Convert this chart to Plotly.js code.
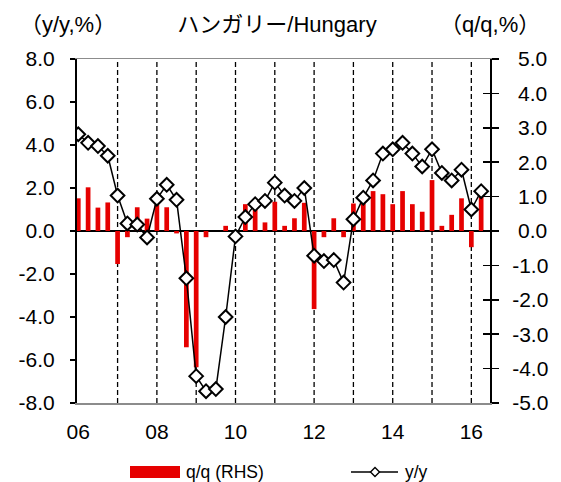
<!DOCTYPE html>
<html>
<head>
<meta charset="utf-8">
<script src="https://cdn.plot.ly/plotly-3.0.1.min.js"></script>
<style>html,body{margin:0;padding:0;background:#fff;}#chart{width:561px;height:482px;}</style>
</head>
<body>
<div id="chart"></div>
<script>
// Quarters 2006Q1 .. 2016Q2
const quarters = [
  '06Q1','06Q2','06Q3','06Q4','07Q1','07Q2','07Q3','07Q4',
  '08Q1','08Q2','08Q3','08Q4','09Q1','09Q2','09Q3','09Q4',
  '10Q1','10Q2','10Q3','10Q4','11Q1','11Q2','11Q3','11Q4',
  '12Q1','12Q2','12Q3','12Q4','13Q1','13Q2','13Q3','13Q4',
  '14Q1','14Q2','14Q3','14Q4','15Q1','15Q2','15Q3','15Q4',
  '16Q1','16Q2'
];
// q/q growth, % (right axis)
const qoq = [
  0.95, 1.27, 0.68, 0.83, -0.96, -0.18, 0.69, 0.36,
  0.76, 0.69, -0.07, -3.38, -3.96, -0.18, 0.00, 0.15,
  0.00, 0.78, 0.62, 0.25, 0.85, 0.15, 0.37, 0.82,
  -2.27, -0.18, 0.37, -0.18, 0.80, 0.80, 1.16, 1.07,
  0.78, 1.16, 0.78, 0.56, 1.48, 0.15, 0.47, 0.95,
  -0.47, 1.03
];
// y/y growth, % (left axis)
const yoy = [
  4.50, 4.10, 3.95, 3.50, 1.65, 0.35, 0.30, -0.30,
  1.50, 2.15, 1.45, -2.20, -6.75, -7.45, -7.35, -4.00,
  -0.25, 0.65, 1.25, 1.40, 2.25, 1.65, 1.40, 2.00,
  -1.15, -1.40, -1.35, -2.40, 0.55, 1.55, 2.35, 3.60,
  3.80, 4.10, 3.60, 3.00, 3.80, 2.70, 2.35, 2.85,
  1.00, 1.85
];
const xTickVals = ['06Q1','08Q1','10Q1','12Q1','14Q1','16Q1'];
const xTickText = ['06','08','10','12','14','16'];
const leftTickVals = [-8,-6,-4,-2,0,2,4,6,8];
const leftTickText = ['-8.0','-6.0','-4.0','-2.0','0.0','2.0','4.0','6.0','8.0'];
const rightTickVals = [-5,-4,-3,-2,-1,0,1,2,3,4,5];
const rightTickText = ['-5.0','-4.0','-3.0','-2.0','-1.0',' 0.0',' 1.0',' 2.0',' 3.0',' 4.0',' 5.0'];
const titleText = 'ハンガリー/Hungary';
const leftUnit = '（y/y,%）';
const rightUnit = '（q/q,%）';
const barName = 'q/q (RHS)';
const lineName = 'y/y';

const FONT = 'Liberation Sans, Arial, Noto Sans CJK JP, sans-serif';
const RED = '#e60000';

const traces = [
  {
    type: 'bar', x: quarters, y: qoq, name: barName, yaxis: 'y',
    marker: {color: RED, line: {width: 0}}, width: 0.48, showlegend: false
  },
  {
    type: 'scatter', mode: 'lines+markers', x: quarters, y: yoy, name: lineName, yaxis: 'y2',
    line: {color: '#000', width: 1.5},
    marker: {symbol: 'diamond', size: 10.5, color: '#fff', line: {color: '#000', width: 2}},
    showlegend: false
  },
  {type: 'scatter', x: [], y: [], yaxis: 'y3', showlegend: false, hoverinfo: 'skip'}
];

// year separator lines at each Q1 (except first)
const shapes = [];
quarters.forEach((q, k) => {
  if (k > 0 && q.endsWith('Q1')) {
    shapes.push({type: 'line', xref: 'x', yref: 'paper', x0: k, x1: k, y0: 0, y1: 1,
      line: {color: '#000', width: 1.3, dash: '5px,3px'}, layer: 'below'});
  }
});
// custom legend
const px = v => (v - 77) / 413;
const py = v => (403 - v) / 344;
shapes.push({type: 'rect', xref: 'paper', yref: 'paper', x0: px(130), x1: px(180), y0: py(478), y1: py(466),
  fillcolor: RED, line: {width: 0}});
shapes.push({type: 'line', xref: 'paper', yref: 'paper', x0: px(351), x1: px(398), y0: py(472), y1: py(472),
  line: {color: '#000', width: 1.5}});
const cx = px(375), cy = py(472), dx = 4.5 / 413, dy = 4.5 / 344;
shapes.push({type: 'path', xref: 'paper', yref: 'paper',
  path: `M${cx-dx},${cy} L${cx},${cy+dy} L${cx+dx},${cy} L${cx},${cy-dy} Z`,
  fillcolor: '#fff', line: {color: '#000', width: 1.4}});

const annotations = [
  {text: leftUnit, xref: 'paper', yref: 'paper', x: px(68), y: py(24), xanchor: 'center', yanchor: 'middle',
    showarrow: false, font: {size: 22, family: FONT, color: '#000'}},
  {text: rightUnit, xref: 'paper', yref: 'paper', x: px(490), y: py(24), xanchor: 'center', yanchor: 'middle',
    showarrow: false, font: {size: 22, family: FONT, color: '#000'}},
  {text: barName, xref: 'paper', yref: 'paper', x: px(184), y: py(472), xanchor: 'left', yanchor: 'middle',
    showarrow: false, font: {size: 17.5, family: FONT, color: '#000'}},
  {text: lineName, xref: 'paper', yref: 'paper', x: px(403), y: py(472), xanchor: 'left', yanchor: 'middle',
    showarrow: false, font: {size: 17.5, family: FONT, color: '#000'}}
];

const layout = {
  width: 561, height: 482,
  margin: {l: 77, r: 71, t: 59, b: 79, pad: 0},
  paper_bgcolor: '#fff', plot_bgcolor: '#fff',
  font: {family: FONT, size: 21, color: '#000'},
  showlegend: false,
  title: {text: titleText, x: 277 / 561, xanchor: 'center', y: 1 - 24 / 482, yanchor: 'middle',
    font: {size: 22, family: FONT, color: '#000'}},
  xaxis: {
    type: 'category', range: [-0.13, 41.9], fixedrange: true,
    showline: true, linecolor: '#8c8c8c', linewidth: 1.5, mirror: true,
    ticks: '', tickmode: 'array', tickvals: xTickVals, ticktext: xTickText,
    tickfont: {size: 21}, showgrid: false, zeroline: false, ticklabelstandoff: 9
  },
  yaxis: {
    side: 'right', range: [-5, 5], tickmode: 'array', tickvals: rightTickVals, ticktext: rightTickText,
    ticks: 'outside', ticklen: 7, tickwidth: 1.5, tickcolor: '#000',
    showline: true, linecolor: '#000', linewidth: 2,
    showgrid: false, zeroline: true, zerolinecolor: '#000', zerolinewidth: 2.5,
    ticklabelstandoff: 9, tickfont: {size: 21}
  },
  yaxis2: {
    overlaying: 'y', side: 'left', range: [-8, 8], tickmode: 'array', tickvals: leftTickVals, ticktext: leftTickText,
    ticks: 'outside', ticklen: 5, tickwidth: 1.5, tickcolor: '#000',
    showline: true, linecolor: '#000', linewidth: 2,
    showgrid: false, zeroline: false, ticklabelstandoff: 11, tickfont: {size: 21}
  },
  yaxis3: {
    overlaying: 'y', side: 'right', range: [-5, 5], tickmode: 'array', tickvals: rightTickVals,
    ticks: 'inside', ticklen: 7, tickwidth: 1.5, tickcolor: '#000',
    showticklabels: false, showline: false, showgrid: false, zeroline: false
  },
  shapes: shapes,
  annotations: annotations
};

Plotly.newPlot('chart', traces, layout, {staticPlot: true, displayModeBar: false});
</script>
</body>
</html>
